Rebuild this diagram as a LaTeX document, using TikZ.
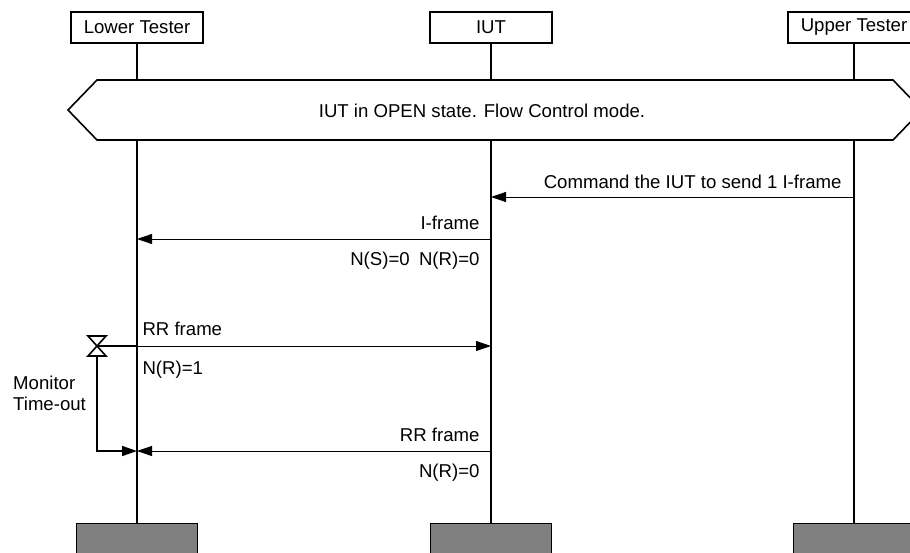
\documentclass[tikz,border=0pt]{standalone}
\usepackage{fontspec}
\setmainfont{Liberation Sans}
\usetikzlibrary{arrows.meta}

\tikzset{
	entity/.style={draw, rectangle, line width=1.6pt, minimum width=122pt, minimum height=31pt, inner xsep=13pt},
	entityend/.style={draw, rectangle, fill=gray, line width=0.8pt, minimum width=121pt, minimum height=32pt},
	lifeline/.style={line width=1.6pt},
	msg/.style={line width=0.8pt, -{Triangle[length=15pt, width=10pt]}},
}

\begin{document}
\begin{tikzpicture}[x=1pt, y=-1pt, node distance=354pt, auto, font=\fontsize{18.6}{21}\selectfont]
		\useasboundingbox (0,0) rectangle (910,552);
		\clip (0,0) rectangle (910,552);

		\node (lower) [entity] at (137,27.5) {Lower Tester};
		\node (iut) [right of=lower, entity] {IUT};
		\node (upper) [right of=iut, entity, node distance=363pt] {Upper Tester};

		\node (lowerend) [entityend] at (137,539) {};
		\node (iutend) [entityend] at (491,539) {};
		\node (upperend) [entityend] at (854,539) {};

		\draw[lifeline] (lower) -- (lowerend);
		\draw[lifeline] (iut) -- (iutend);
		\draw[lifeline] (upper) -- (upperend);

		% precondition
		\draw[line width=1.6pt, fill=white] (68,110) -- (97,80) -- (893,80) -- (922,110) -- (893,140) -- (97,140) -- cycle;
		\node (state) at (482,111) {IUT in OPEN state. Flow Control mode.};

		% messages
		\coordinate (cmdfrom) at (854,197);
		\coordinate (cmdto) at (491,197);
		\draw[msg] (cmdfrom) -- (cmdto);
		\node (cmdlabel) [anchor=base east] at (845,188) {Command the IUT to send 1 I-frame};

		\coordinate (iframefrom) at (491,239);
		\coordinate (iframeto) at (137,239);
		\draw[msg] (iframefrom) -- (iframeto);
		\node (iframelabel) [anchor=base east] at (483,229) {I-frame};
		\node (iframeparam) [anchor=base east] at (483,265) {N(S)=0\enspace N(R)=0};

		\coordinate (rrfrom) at (137,346);
		\coordinate (rrto) at (491,346);
		\draw[msg] (rrfrom) -- (rrto);
		\node (rrlabel) [anchor=base west] at (139,335) {RR frame};
		\node (rrparam) [anchor=base west] at (139,374) {N(R)=1};

		\coordinate (rrbackfrom) at (491,451);
		\coordinate (rrbackto) at (137,451);
		\draw[msg] (rrbackfrom) -- (rrbackto);
		\node (rrbacklabel) [anchor=base east] at (483,441) {RR frame};
		\node (rrbackparam) [anchor=base east] at (483,477) {N(R)=0};

		% timer
		\coordinate (timer) at (97,346);
		\draw[line width=1.6pt] (88,336) -- (106,336) -- (88,356) -- (106,356) -- cycle;
		\draw[line width=1.6pt] (timer) -- (rrfrom);
		\draw[line width=1.6pt, -{Triangle[length=15pt, width=10pt]}] (97,356) |- (rrbackto);
		\node (timerlabel) [anchor=west, align=left, inner xsep=0pt] at (13,393) {Monitor\\Time-out};
\end{tikzpicture}
\end{document}
